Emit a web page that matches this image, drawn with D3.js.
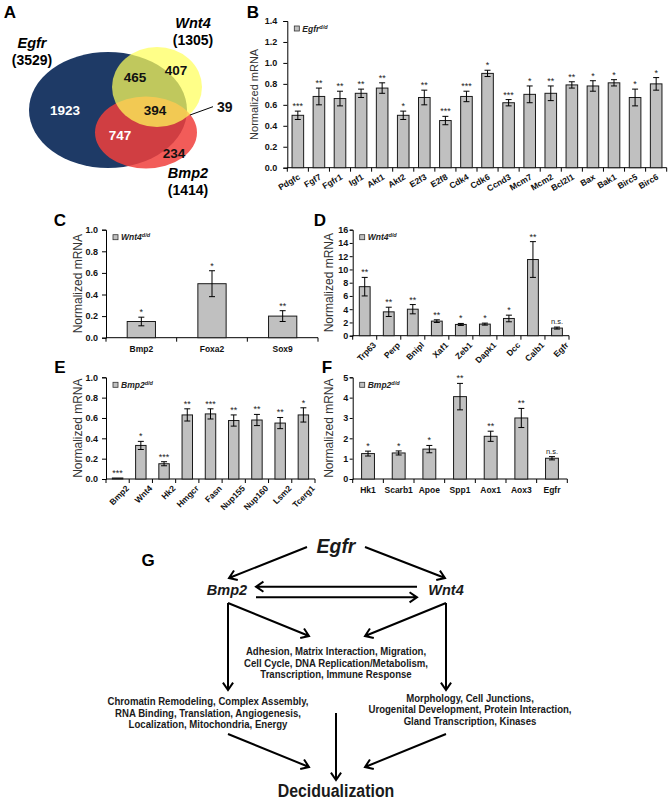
<!DOCTYPE html>
<html>
<head>
<meta charset="utf-8">
<script src="https://cdn.jsdelivr.net/npm/d3@7"></script>
<style>
body { margin: 0; background: #fff; }
svg { display: block; font-family: Arial, "Liberation Sans", sans-serif; }
</style>
</head>
<body>
<svg id="fig" width="670" height="800"></svg>
<script>
// ------- data -------
var vennNames = ["Egfr", "Wnt4", "Bmp2"];
var vennTotals = [3529, 1305, 1414];
// egfr only, egfr+wnt4, wnt4 only, all three, egfr+bmp2, bmp2 only, wnt4+bmp2
var vennCounts = [1923, 465, 407, 394, 747, 234, 39];

var bCats = ["Pdgfc", "Fgf7", "Fgfr1", "Igf1", "Akt1", "Akt2", "E2f3", "E2f8", "Cdk4", "Cdk6", "Ccnd3", "Mcm7", "Mcm2", "Bcl2l1", "Bax", "Bak1", "Birc5", "Birc6"];
var bVals = [0.50, 0.68, 0.66, 0.71, 0.76, 0.50, 0.67, 0.45, 0.68, 0.90, 0.62, 0.70, 0.71, 0.79, 0.78, 0.81, 0.67, 0.80];
var bErrs = [0.04, 0.08, 0.07, 0.04, 0.05, 0.04, 0.07, 0.04, 0.05, 0.03, 0.03, 0.08, 0.07, 0.03, 0.05, 0.03, 0.08, 0.06];
var bSig = ["***", "**", "**", "**", "**", "*", "**", "***", "***", "*", "***", "*", "**", "**", "*", "*", "*", "*"];
var bTicks = [0, 0.2, 0.4, 0.6, 0.8, 1.0, 1.2, 1.4];

var cCats = ["Bmp2", "Foxa2", "Sox9"];
var cVals = [0.15, 0.50, 0.20];
var cErrs = [0.04, 0.12, 0.05];
var cSig = ["*", "*", "**"];
var cTicks = [0, 0.2, 0.4, 0.6, 0.8, 1.0];

var dCats = ["Trp63", "Perp", "Bnipl", "Xaf1", "Zeb1", "Dapk1", "Dcc", "Calb1", "Egfr"];
var dVals = [7.4, 3.6, 4.0, 2.2, 1.7, 1.75, 2.6, 11.5, 1.15];
var dErrs = [1.4, 0.7, 0.7, 0.2, 0.15, 0.15, 0.5, 2.7, 0.15];
var dSig = ["**", "**", "**", "**", "*", "*", "*", "**", "n.s."];
var dTicks = [0, 2, 4, 6, 8, 10, 12, 14, 16];

var eCats = ["Bmp2", "Wnt4", "Hk2", "Hmgcr", "Fasn", "Nup155", "Nup160", "Lsm2", "Tcerg1"];
var eVals = [0.01, 0.33, 0.15, 0.63, 0.64, 0.575, 0.58, 0.55, 0.63];
var eErrs = [0, 0.04, 0.02, 0.06, 0.05, 0.055, 0.055, 0.055, 0.07];
var eSig = ["***", "*", "***", "**", "***", "**", "**", "**", "*"];
var eTicks = [0, 0.2, 0.4, 0.6, 0.8, 1.0];

var fCats = ["Hk1", "Scarb1", "Apoe", "Spp1", "Aox1", "Aox3", "Egfr"];
var fVals = [1.25, 1.28, 1.47, 4.05, 2.1, 3.0, 1.02];
var fErrs = [0.12, 0.1, 0.18, 0.65, 0.25, 0.47, 0.08];
var fSig = ["*", "*", "*", "**", "**", "**", "n.s."];
var fTicks = [0, 1, 2, 3, 4, 5];

var gTop = "Egfr";
var gMid = ["Bmp2", "Wnt4"];
var gShared = ["Adhesion, Matrix Interaction, Migration,", "Cell Cycle, DNA Replication/Metabolism,", "Transcription, Immune Response"];
var gLeft = ["Chromatin Remodeling, Complex Assembly,", "RNA Binding, Translation, Angiogenesis,", "Localization, Mitochondria,  Energy"];
var gRight = ["Morphology, Cell Junctions,", "Urogenital Development, Protein Interaction,", "Gland Transcription, Kinases"];
var gEnd = "Decidualization";

var svg = d3.select("#fig");

// ------- panel letters -------
[["A", 10, 18], ["B", 253, 18], ["C", 60, 226], ["D", 320, 226], ["E", 60, 373], ["F", 327, 373], ["G", 148, 566]].forEach(function (p) {
    svg.append("text").attr("x", p[1]).attr("y", p[2]).attr("text-anchor", "middle")
        .style("font-size", "17px").style("font-weight", "bold").text(p[0]);
});

// ------- A: venn -------
var venn = svg.append("g");
venn.append("ellipse").attr("cx", 108).attr("cy", 110).attr("rx", 79).attr("ry", 58).attr("fill", "rgb(30,58,102)");
venn.append("ellipse").attr("cx", 146).attr("cy", 132.5).attr("rx", 51).attr("ry", 36).attr("fill", "rgb(240,64,60)").attr("fill-opacity", 0.85);
venn.append("ellipse").attr("cx", 157).attr("cy", 87).attr("rx", 45).attr("ry", 40).attr("fill", "rgb(255,255,90)").attr("fill-opacity", 0.72);

var vennPos = [[65, 110, "#fff", "middle"], [135, 77, "#111", "middle"], [176, 70, "#111", "middle"], [155, 110, "#111", "middle"],
    [120, 135, "#fff", "middle"], [174, 153, "#111", "middle"], [217, 107, "#111", "start"]];
vennCounts.forEach(function (c, i) {
    venn.append("text").attr("x", vennPos[i][0]).attr("y", vennPos[i][1] + 5)
        .attr("text-anchor", vennPos[i][3]).attr("fill", vennPos[i][2])
        .style("font-size", i === 6 ? "14px" : "13.5px").style("font-weight", "bold").text(c);
});
venn.append("line").attr("x1", 190).attr("y1", 115).attr("x2", 213).attr("y2", 106.7).attr("stroke", "#000");

var labPos = [[32, 43], [193, 23], [188, 173]];
vennNames.forEach(function (n, i) {
    venn.append("text").attr("x", labPos[i][0]).attr("y", labPos[i][1] + 5).attr("text-anchor", "middle")
        .style("font-size", "14.5px").style("font-weight", "bold").style("font-style", "italic").text(n);
    venn.append("text").attr("x", labPos[i][0]).attr("y", labPos[i][1] + 22).attr("text-anchor", "middle")
        .style("font-size", "14px").style("font-weight", "bold").text("(" + vennTotals[i] + ")");
});

// ------- bar panels -------
function barPanel(o) {
    var g = svg.append("g");
    var x = d3.scaleBand().domain(o.cats).range([o.left, o.right])
        .paddingInner(o.pad).paddingOuter(o.pad / 2);
    var y = d3.scaleLinear().domain([0, o.max]).range([o.bottom, o.top]);

    var ya = g.append("g").attr("transform", "translate(" + o.left + ",0)")
        .call(d3.axisLeft(y).tickValues(o.ticks).tickFormat(d3.format(o.fmt)).tickSize(o.tick).tickPadding(o.tpad));
    ya.select(".domain").attr("stroke", "#000");
    ya.selectAll("line").attr("stroke", "#000");
    ya.selectAll("text").style("font-size", "9px").style("font-weight", "bold").attr("fill", "#111");

    // x axis line + ticks between categories
    g.append("line").attr("x1", o.left).attr("x2", o.right).attr("y1", o.bottom).attr("y2", o.bottom).attr("stroke", "#000");
    d3.range(o.cats.length + 1).forEach(function (i) {
        var xx = o.left + i * x.step();
        g.append("line").attr("x1", xx).attr("x2", xx).attr("y1", o.bottom).attr("y2", o.bottom + 4).attr("stroke", "#000");
    });

    g.selectAll("rect.bar").data(o.vals).enter().append("rect").attr("class", "bar")
        .attr("x", function (d, i) { return x(o.cats[i]); })
        .attr("y", function (d) { return y(d); })
        .attr("width", x.bandwidth())
        .attr("height", function (d) { return o.bottom - y(d); })
        .attr("fill", "#c0c0c0").attr("stroke", "#1a1a1a").attr("stroke-width", 1);

    o.vals.forEach(function (v, i) {
        var cx = x(o.cats[i]) + x.bandwidth() / 2;
        var e = o.errs[i];
        if (e > 0) {
            g.append("line").attr("x1", cx).attr("x2", cx).attr("y1", y(v - e)).attr("y2", y(v + e)).attr("stroke", "#000");
            [v - e, v + e].forEach(function (w) {
                g.append("line").attr("x1", cx - 3).attr("x2", cx + 3).attr("y1", y(w)).attr("y2", y(w)).attr("stroke", "#000");
            });
        }
        var ns = o.sig[i] === "n.s.";
        g.append("text").attr("x", cx).attr("y", y(v + e) - (ns ? 3 : 2))
            .attr("text-anchor", "middle").attr("fill", "#222")
            .style("font-size", ns ? "7.5px" : "9px").text(o.sig[i]);

        var lab = g.append("text").style("font-size", "8.5px").style("font-weight", "bold").attr("fill", "#111").text(o.cats[i]);
        if (o.rot) {
            lab.attr("text-anchor", "end")
                .attr("transform", "translate(" + (cx + o.ldx) + "," + (o.bottom + o.ldy) + ")rotate(" + o.rot + ")");
        } else {
            lab.attr("text-anchor", "middle").attr("x", cx).attr("y", o.bottom + 14);
        }
    });

    // legend
    g.append("rect").attr("x", o.left + 7).attr("y", o.top + 5).attr("width", 5).attr("height", 5)
        .attr("fill", "#c0c0c0").attr("stroke", "#333").attr("stroke-width", 0.8);
    var lt = g.append("text").attr("x", o.left + 15).attr("y", o.top + 10.5)
        .style("font-size", "8.5px").style("font-weight", "bold").style("font-style", "italic").attr("fill", "#222");
    lt.append("tspan").text(o.legend);
    lt.append("tspan").attr("dy", -3).style("font-size", "5.5px").text("d/d");

    g.append("text").attr("transform", "translate(" + o.titleX + "," + (o.top + o.bottom) / 2 + ")rotate(-90)")
        .attr("text-anchor", "middle").attr("fill", "#333").style("font-size", o.titleSize + "px").text("Normalized mRNA");
}

barPanel({ cats: bCats, vals: bVals, errs: bErrs, sig: bSig, ticks: bTicks, fmt: ".1f", max: 1.4,
    left: 287.3, right: 666.7, top: 21, bottom: 167.7, pad: 0.45, rot: -30, ldx: 3, ldy: 11, tick: 4, tpad: 6,
    legend: "Egfr", titleX: 258, titleSize: 11 });
barPanel({ cats: cCats, vals: cVals, errs: cErrs, sig: cSig, ticks: cTicks, fmt: ".1f", max: 1.0,
    left: 106, right: 318, top: 229.7, bottom: 337.7, pad: 0.6, rot: 0, tick: 4, tpad: 4,
    legend: "Wnt4", titleX: 82, titleSize: 12 });
barPanel({ cats: dCats, vals: dVals, errs: dErrs, sig: dSig, ticks: dTicks, fmt: "d", max: 16,
    left: 352.7, right: 569, top: 229.7, bottom: 335.7, pad: 0.55, rot: -45, ldx: 12, ldy: 10, tick: 3, tpad: 1.5,
    legend: "Wnt4", titleX: 332.5, titleSize: 12 });
barPanel({ cats: eCats, vals: eVals, errs: eErrs, sig: eSig, ticks: eTicks, fmt: ".1f", max: 1.0,
    left: 106, right: 315, top: 377.3, bottom: 479, pad: 0.55, rot: -45, ldx: 12, ldy: 10, tick: 4, tpad: 4,
    legend: "Bmp2", titleX: 82, titleSize: 12 });
barPanel({ cats: fCats, vals: fVals, errs: fErrs, sig: fSig, ticks: fTicks, fmt: "d", max: 5,
    left: 352.7, right: 567.3, top: 377.3, bottom: 479, pad: 0.58, rot: 0, tick: 3, tpad: 1.5,
    legend: "Bmp2", titleX: 332.5, titleSize: 12 });

// ------- G: pathway diagram -------
var gg = svg.append("g");
function arrow(x1, y1, x2, y2) {
    var a = Math.atan2(y2 - y1, x2 - x1), h = 9, s = 0.6;
    gg.append("path")
        .attr("d", "M" + x1 + "," + y1 + "L" + x2 + "," + y2 +
            "M" + (x2 - h * Math.cos(a - s)) + "," + (y2 - h * Math.sin(a - s)) + "L" + x2 + "," + y2 +
            "L" + (x2 - h * Math.cos(a + s)) + "," + (y2 - h * Math.sin(a + s)))
        .attr("fill", "none").attr("stroke", "#000").attr("stroke-width", 2);
}
// squeezed bold text (the figure's condensed font)
function label(t, cx, y, size, sx, italic) {
    gg.append("text").attr("transform", "translate(" + cx + "," + y + ")scale(" + sx + ",1)")
        .attr("text-anchor", "middle").attr("fill", "#1a1a1a")
        .style("font-size", size + "px").style("font-weight", "bold")
        .style("font-style", italic ? "italic" : "normal").text(t);
}
label(gTop, 336, 553, 20, 0.97, true);
label(gMid[0], 227, 595, 14.5, 1, true);
label(gMid[1], 446, 595, 14.5, 1, true);

arrow(307, 547, 229, 578);
arrow(365, 547, 445, 578);
arrow(417, 586.7, 256, 586.7);
arrow(256, 597.3, 417, 597.3);
arrow(228, 603, 228, 690);
arrow(228, 603, 309, 636);
arrow(446, 603, 446, 690);
arrow(446, 603, 365, 636);
arrow(336, 713, 336, 780);
arrow(228, 734, 309, 767);
arrow(446, 734, 365, 767);

function block(lines, cx, y0) {
    lines.forEach(function (t, i) { label(t, cx, y0 + i * 11.6, 10.5, 0.915, false); });
}
block(gShared, 336, 655);
block(gLeft, 208, 705);
block(gRight, 470, 701.5);

label(gEnd, 336, 797, 18.5, 0.86, false);
</script>
</body>
</html>
